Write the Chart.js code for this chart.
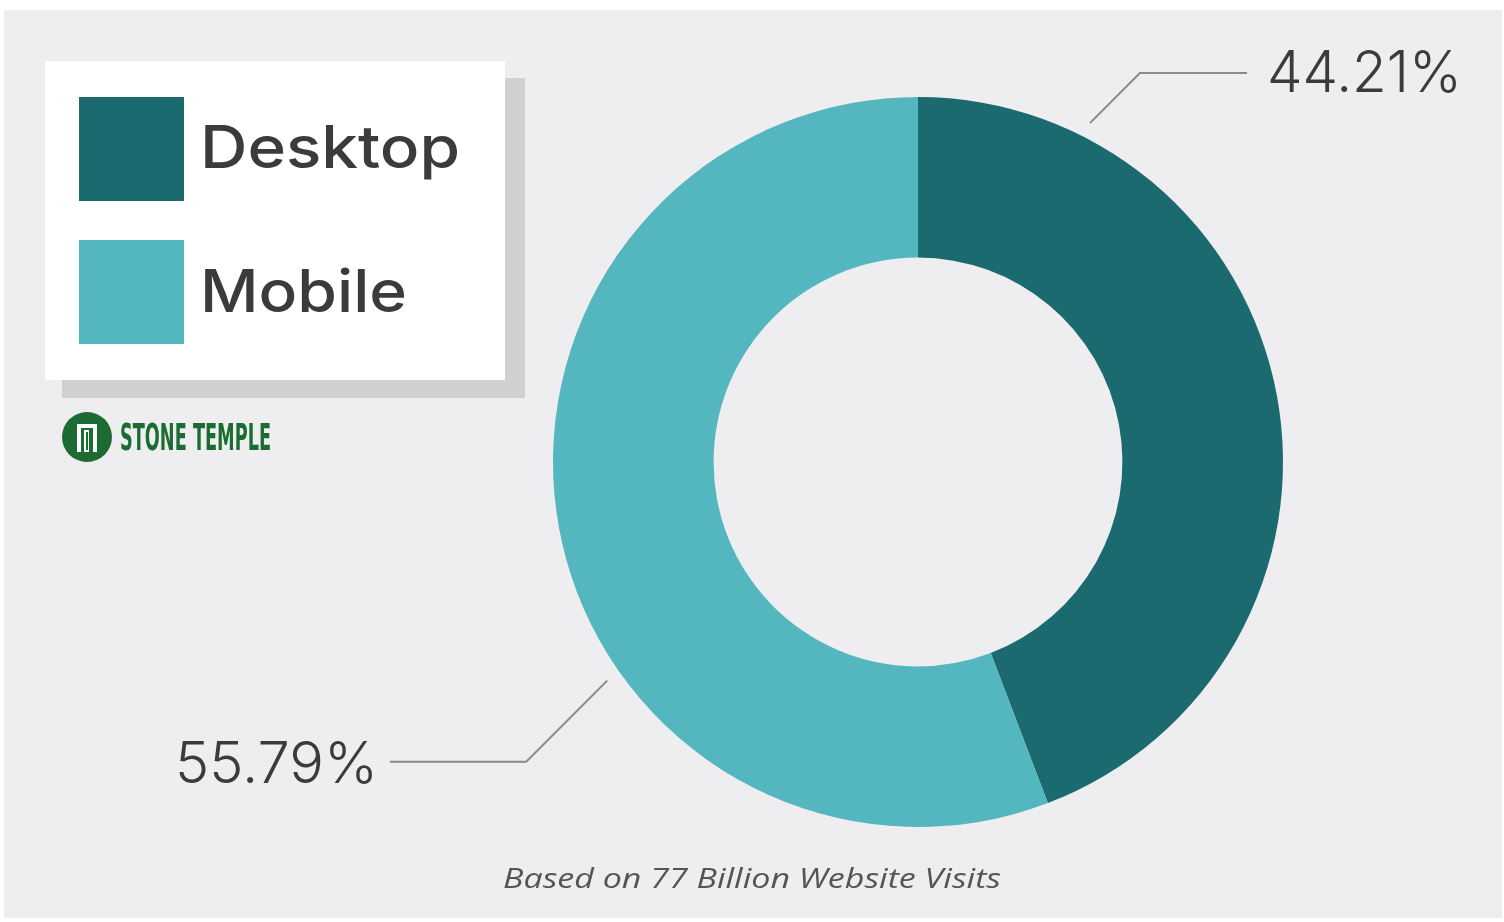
<!DOCTYPE html>
<html><head><meta charset="utf-8">
<script src="https://cdn.jsdelivr.net/npm/chart.js@4.4.1/dist/chart.umd.min.js"></script>
<style>html,body{margin:0;padding:0;background:#fff;overflow:hidden}#wrap{width:1504px;height:922px;position:relative}</style>
</head><body><div id="wrap"><canvas id="c" width="1504" height="922"></canvas></div>
<script>
// ---- data ----
const categories = ['Desktop', 'Mobile'];
const shares = [44.21, 55.79];
const valueLabels = ['44.21%', '55.79%'];
const footnote = 'Based on 77 Billion Website Visits';
const brand = 'STONE TEMPLE';

// ---- styles ----
const sliceColors = ['#1b6a70', '#54b6bf'];
const bgColor = '#eeeef0';
const textColor = '#3b3b3b';

function drawFit(ctx, text, x, y, w, align) {
  const m = ctx.measureText(text).width;
  const s = w / m;
  ctx.save();
  ctx.translate(x, y);
  ctx.scale(s, 1);
  ctx.textAlign = 'left';
  ctx.textBaseline = 'alphabetic';
  ctx.fillText(text, align === 'right' ? -m : (align === 'center' ? -m / 2 : 0), 0);
  ctx.restore();
}

const bgPlugin = {
  id: 'bg',
  beforeDraw(chart) {
    const ctx = chart.ctx;
    ctx.save();
    ctx.fillStyle = '#ffffff';
    ctx.fillRect(0, 0, chart.width, chart.height);
    ctx.fillStyle = bgColor;
    ctx.fillRect(4, 10, 1498, 908);
    ctx.restore();
  }
};

const decor = {
  id: 'decor',
  afterDraw(chart) {
    const ctx = chart.ctx;
    const ds = chart.data.datasets[0];
    ctx.save();
    // legend box with shadow
    ctx.fillStyle = '#d0d0d0';
    ctx.fillRect(62, 78, 463, 320);
    ctx.fillStyle = '#ffffff';
    ctx.fillRect(45, 61, 460, 319);
    const rowsY = [97, 240];
    const baseY = [168, 312];
    const textW = [260, 207];
    chart.data.labels.forEach((lab, i) => {
      ctx.fillStyle = ds.backgroundColor[i];
      ctx.fillRect(79, rowsY[i], 105, 104);
      ctx.fillStyle = textColor;
      ctx.font = '500 59px Inter';
      drawFit(ctx, lab, 200, baseY[i], textW[i], 'left');
    });

    // Stone Temple logo
    const green = '#1b6b32';
    ctx.fillStyle = green;
    ctx.beginPath();
    ctx.arc(87, 437, 25, 0, Math.PI * 2);
    ctx.fill();
    ctx.fillStyle = '#ffffff';
    ctx.fillRect(77, 424, 20, 28);
    ctx.fillStyle = green;
    ctx.fillRect(81, 428, 12, 24);
    ctx.fillStyle = '#ffffff';
    ctx.fillRect(84, 430, 5, 22);
    ctx.fillStyle = green;
    ctx.fillRect(86, 432, 2, 18);
    ctx.font = 'bold 38px "DejaVu Sans Condensed", "DejaVu Sans"';
    drawFit(ctx, brand, 120, 450, 151, 'left');

    // leader lines and value labels
    const meta = chart.getDatasetMeta(0);
    const fracs = [0.169, 0.377];
    ctx.strokeStyle = '#8a8a8a';
    ctx.lineWidth = 2;
    ctx.fillStyle = textColor;
    ctx.font = '300 58px Inter';
    meta.data.forEach((arc, i) => {
      const p = arc.getProps(['x', 'y', 'startAngle', 'endAngle', 'outerRadius'], true);
      const a = p.startAngle + (p.endAngle - p.startAngle) * fracs[i];
      const r = p.outerRadius + 15;
      const x0 = p.x + Math.cos(a) * r;
      const y0 = p.y + Math.sin(a) * r;
      ctx.beginPath();
      ctx.moveTo(x0, y0);
      if (i === 0) {
        ctx.lineTo(x0 + 50, y0 - 50);
        ctx.lineTo(1247, y0 - 50);
        ctx.stroke();
        drawFit(ctx, valueLabels[i], 1267, 92, 195, 'left');
      } else {
        ctx.lineTo(x0 - 81, y0 + 81);
        ctx.lineTo(390, y0 + 81);
        ctx.stroke();
        drawFit(ctx, valueLabels[i], 378, 783, 203, 'right');
      }
    });

    // footnote
    ctx.fillStyle = '#555555';
    ctx.font = 'italic 28px "Open Sans"';
    drawFit(ctx, footnote, 503, 888, 498, 'left');
    ctx.restore();
  }
};

new Chart(document.getElementById('c'), {
  type: 'doughnut',
  data: {
    labels: categories,
    datasets: [{
      data: shares,
      backgroundColor: sliceColors,
      borderWidth: 0,
      hoverOffset: 0
    }]
  },
  options: {
    responsive: false,
    animation: false,
    cutout: '56%',
    layout: { padding: { top: 97, bottom: 95, left: 553, right: 221 } },
    plugins: { legend: { display: false }, tooltip: { enabled: false }, title: { display: false } }
  },
  plugins: [bgPlugin, decor]
});
</script>
</body></html>
